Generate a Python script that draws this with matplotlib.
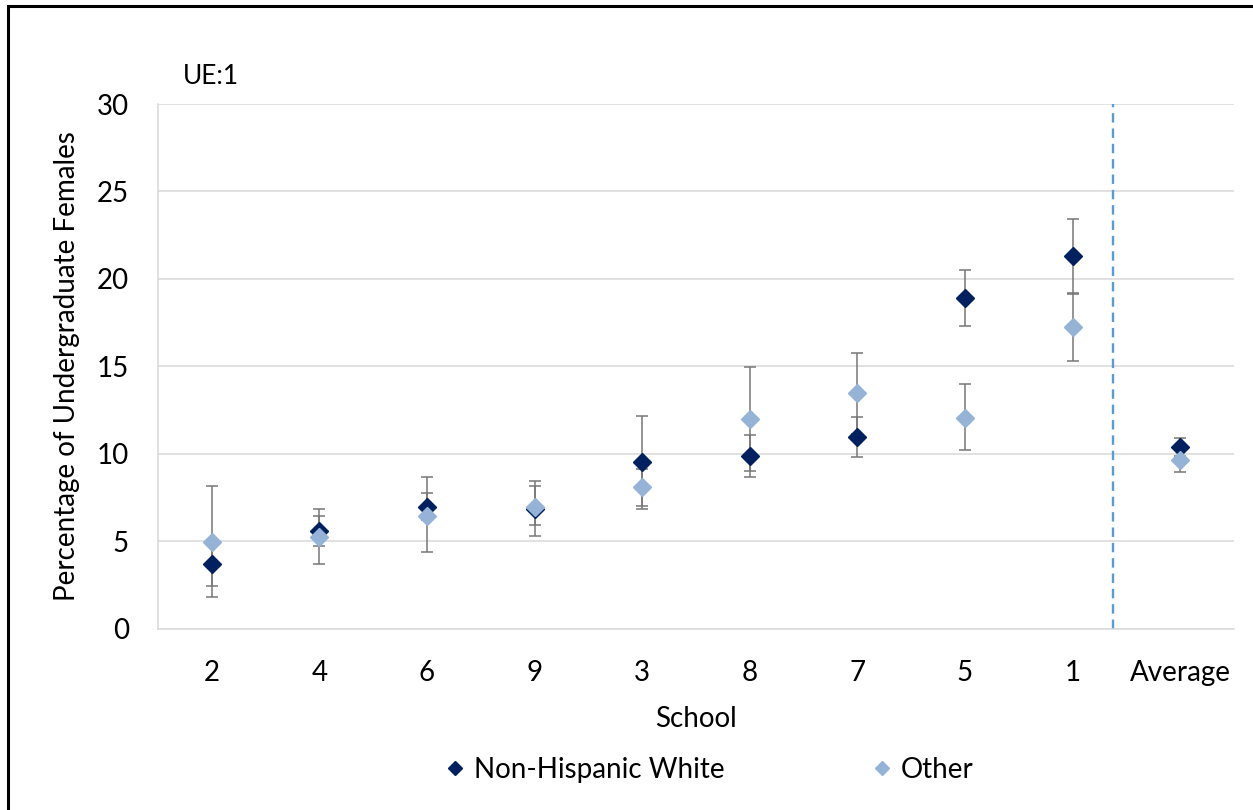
import matplotlib.pyplot as plt
from matplotlib.patches import Rectangle

# --- data ---
schools = ["2", "4", "6", "9", "3", "8", "7", "5", "1", "Average"]

white = [3.71, 5.60, 6.95, 6.84, 9.56, 9.89, 10.97, 18.90, 21.30, 10.40]
white_low = [2.46, 4.72, 6.23, 5.94, 6.84, 8.71, 9.80, 17.31, 19.15, 9.87]
white_high = [4.96, 6.46, 7.79, 8.15, 12.17, 11.07, 12.10, 20.53, 23.45, 10.93]

other = [4.95, 5.24, 6.48, 6.99, 8.10, 11.98, 13.47, 12.08, 17.26, 9.68]
other_low = [1.85, 3.70, 4.42, 5.30, 7.05, 9.03, 11.17, 10.23, 15.33, 8.95]
other_high = [8.15, 6.84, 8.67, 8.44, 9.15, 14.95, 15.75, 14.02, 19.19, 10.41]

divider_pos = 8.38  # dashed line between school 1 and the average

plt.rcParams["font.family"] = ["Lato", "DejaVu Sans"]

dark = "#002060"
light = "#95B3D7"
grey = "#767676"
grid = "#D9D9D9"
fs = 20

fig = plt.figure(figsize=(12.53, 8.10), dpi=100)
ax = fig.add_axes([0.1261, 0.2235, 0.8587, 0.6481])

x = list(range(len(schools)))

# error bars (under the markers)
for vals, lo, hi in [(white, white_low, white_high), (other, other_low, other_high)]:
    yerr = [[v - l for v, l in zip(vals, lo)], [h - v for v, h in zip(vals, hi)]]
    ax.errorbar(x, vals, yerr=yerr, fmt="none", ecolor=grey, elinewidth=1.1,
                capsize=4.5, capthick=1.1, zorder=2)

ax.plot(x, white, linestyle="none", marker="D", markersize=9, color=dark,
        label="Non-Hispanic White", zorder=3)
ax.plot(x, other, linestyle="none", marker="D", markersize=9, color=light,
        label="Other", zorder=4)

ax.axvline(divider_pos, color="#5B9BD5", linewidth=1.7, dashes=(4, 2.5), zorder=1)

ax.set_xlim(-0.5, len(schools) - 0.5)
ax.set_ylim(0, 30)
ax.set_yticks([0, 5, 10, 15, 20, 25, 30])
ax.set_xticks(x)
ax.set_xticklabels(schools)
ax.yaxis.grid(True, color=grid, linewidth=1.1)
ax.set_axisbelow(True)
ax.tick_params(axis="both", length=0, labelsize=fs, colors="#000000")
ax.tick_params(axis="x", pad=22)
ax.tick_params(axis="y", pad=21)

for side in ["top", "right"]:
    ax.spines[side].set_visible(False)
for side in ["left", "bottom"]:
    ax.spines[side].set_color(grid)
    ax.spines[side].set_linewidth(1.1)

ax.set_xlabel("School", fontsize=fs, labelpad=15)
ax.set_ylabel("Percentage of Undergraduate Females", fontsize=fs, labelpad=12)

fig.text(183 / 1253, 1 - 77 / 810, "UE:1", fontsize=fs - 1, va="center", ha="left")

fig.legend(loc="center", bbox_to_anchor=(706 / 1253, 1 - 770 / 810), ncol=2,
           frameon=False, fontsize=fs, markerscale=0.75, columnspacing=5.05,
           handletextpad=0.1, handlelength=1.2)

# outer black frame
fig.patches.append(Rectangle((8 / 1253, -0.05), 1.2, 1 - 6 / 810 + 0.05,
                             transform=fig.transFigure, fill=False,
                             edgecolor="black", linewidth=2.2))

fig.savefig("out.png", dpi=100)
